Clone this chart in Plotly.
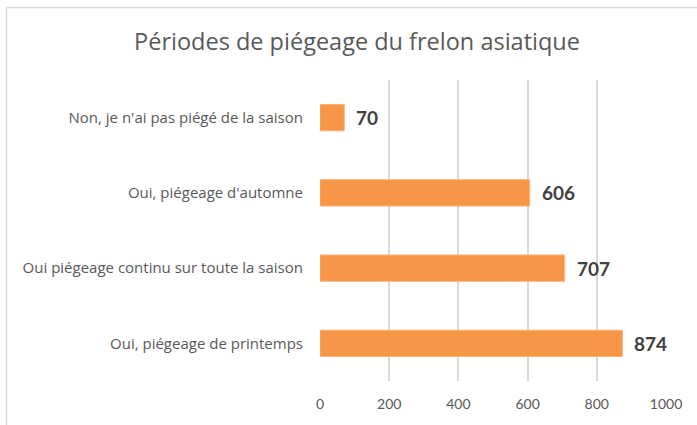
import plotly.graph_objects as go

categories = [
    "Oui, piégeage de printemps",
    "Oui piégeage continu sur toute la saison",
    "Oui, piégeage d'automne",
    "Non, je n'ai pas piégé de la saison",
]
values = [874, 707, 606, 70]
x_ticks = [0, 200, 400, 600, 800, 1000]
title_text = "Périodes de piégeage du frelon asiatique"

W, H = 697, 425
ml, mr, mt, mb = 320, 31, 80, 44
pw, ph = W - ml - mr, H - mt - mb

fig = go.Figure(
    go.Bar(
        y=categories,
        x=values,
        orientation="h",
        marker=dict(color="#F79646", line=dict(color="#FAB27A", width=1)),
        width=0.35,
        hoverinfo="skip",
    )
)

for c, v in zip(categories, values):
    fig.add_annotation(
        x=v, y=c, text=f"<b>{v}</b>", showarrow=False,
        xanchor="left", xshift=10,
        font=dict(family="Lato", size=19, color="#404040"),
    )

def px_to_paper_x(px):
    return (px - ml) / pw

def px_to_paper_y(py):
    return 1 - (py - mt) / ph

fig.add_shape(
    type="rect", xref="paper", yref="paper",
    x0=px_to_paper_x(6.5), x1=px_to_paper_x(W + 20),
    y0=px_to_paper_y(H + 20), y1=px_to_paper_y(7.5),
    line=dict(color="#D9D9D9", width=1.5), layer="below",
)

fig.update_layout(
    width=W, height=H,
    margin=dict(l=ml, r=mr, t=mt, b=mb),
    paper_bgcolor="white", plot_bgcolor="white",
    title=dict(
        text=title_text, x=px_to_paper_x(357), xanchor="center",
        xref="paper", y=1 - 42 / H, yanchor="middle",
        font=dict(family="Open Sans", size=23.5, color="#595959"),
    ),
    showlegend=False,
    xaxis=dict(
        range=[0, 1000], tickvals=x_ticks, showgrid=True,
        gridcolor="#D9D9D9", gridwidth=1.5, zeroline=False,
        showline=False, ticks="",
        tickfont=dict(family="Lato", size=14, color="#595959"),
        ticklabelstandoff=13,
    ),
    yaxis=dict(
        showgrid=False, showline=False, ticks="",
        tickfont=dict(family="Open Sans", size=15, color="#595959"),
        ticklabelstandoff=16,
    ),
)

fig.write_html(
    "out.html",
    config={"displayModeBar": False},
    post_script="document.body.style.margin='0';",
)
